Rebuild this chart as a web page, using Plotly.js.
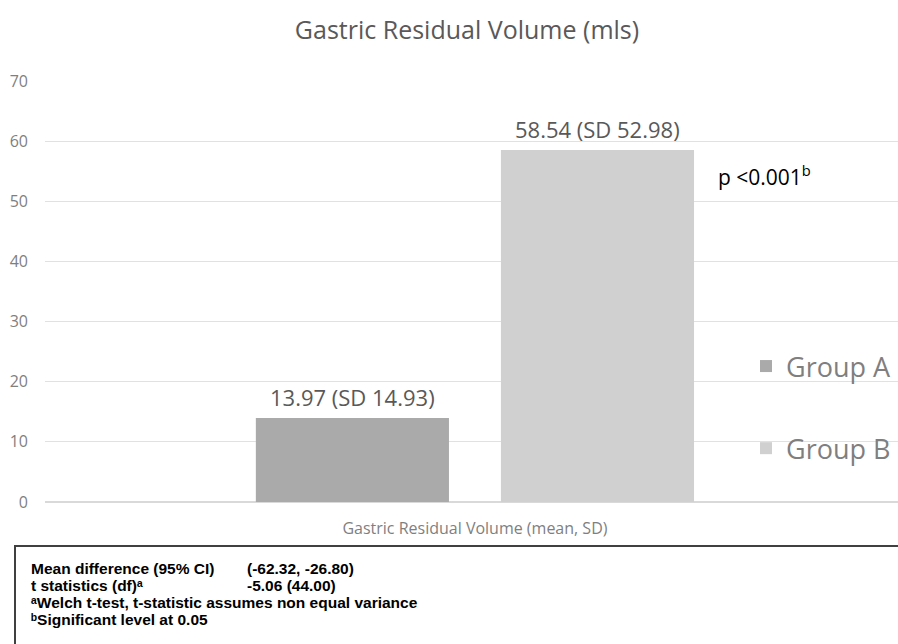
<!DOCTYPE html>
<html><head><meta charset="utf-8">
<script src="https://cdn.plot.ly/plotly-3.0.1.min.js"></script>
<style>html,body{margin:0;padding:0;background:#fff}#chart{width:898px;height:644px}</style>
</head><body><div id="chart"></div>
<script>
const categories = ["Gastric Residual Volume (mean, SD)"];
const groupNames = ["Group A", "Group B"];
const meansA = [13.97];
const meansB = [58.54];
const sdA = [14.93];
const sdB = [52.98];
const yTicks = [0, 10, 20, 30, 40, 50, 60, 70];
const statsLeft = ["Mean difference (95% CI)", "t statistics (df)\u1d43", "\u1d43Welch t-test, t-statistic assumes non equal variance", "\u1d47Significant level at 0.05"];
const statsRight = ["(-62.32, -26.80)", "-5.06 (44.00)", "", ""];
const pText = "p <0.001<sup>b</sup>";

const font = "'Open Sans', 'Noto Sans', sans-serif";
const mkTrace = (name, y, color, grp) => ({
  type: "bar", name: name, x: categories, y: y,
  marker: {color: color}, legendgroup: grp, hoverinfo: "skip"
});
const data = [
  mkTrace(groupNames[0], meansA, "#aaaaaa", "a"),
  mkTrace(groupNames[1], meansB, "#d0d0d0", "b")
];

const annotations = [];
const labelFont = {family: font, size: 22, color: "#595959"};
[[meansA, sdA, -122.5], [meansB, sdB, 122.5]].forEach(([m, s, dx]) => {
  m.forEach((v, i) => annotations.push({
    xref: "x", yref: "y", x: categories[i], y: v, xshift: dx, yshift: 21,
    xanchor: "center", yanchor: "middle", showarrow: false,
    text: v.toFixed(2) + " (SD " + s[i].toFixed(2) + ")", font: labelFont
  }));
});
annotations.push({
  xref: "paper", yref: "y", x: (716-45)/853, y: (502-175)/6.02, xanchor: "left", yanchor: "middle",
  text: pText, showarrow: false, font: {family: font, size: 21, color: "#000"}
});
const boxFont = {family: "'Liberation Sans', 'DejaVu Sans', Arial, sans-serif", size: 15.5, color: "#000", weight: "bold"};
const lineY = [568, 585, 602, 619];
statsLeft.forEach((t, i) => {
  annotations.push({xref: "paper", yref: "paper", x: (30-45)/853, y: (502-lineY[i])/421,
    xanchor: "left", yanchor: "middle", text: "<b>" + t + "</b>", showarrow: false, font: boxFont, borderpad: 0});
  if (statsRight[i]) annotations.push({xref: "paper", yref: "paper", x: (246-45)/853, y: (502-lineY[i])/421,
    xanchor: "left", yanchor: "middle", text: "<b>" + statsRight[i] + "</b>", showarrow: false, font: boxFont, borderpad: 0});
});

const layout = {
  width: 898, height: 644,
  margin: {l: 45, r: 0, t: 81, b: 142},
  paper_bgcolor: "#fff", plot_bgcolor: "#fff",
  title: {text: "Gastric Residual Volume (mls)", x: 467/898, xanchor: "center",
    y: 1 - 30/644, yanchor: "middle", font: {family: font, size: 25, color: "#595959"}},
  barmode: "group", bargap: 0.430, bargroupgap: 0.212,
  xaxis: {type: "category", range: [-0.5, 0.492], showgrid: false, zeroline: false, showline: false,
    ticks: "", tickfont: {family: font, size: 16, color: "#7f7f7f"}, ticklabelstandoff: 15},
  yaxis: {range: [0, 70], tickvals: yTicks, ticktext: yTicks.map(String), showgrid: true, gridcolor: "#e1e1e1",
    gridwidth: 1, zeroline: true, zerolinecolor: "#d9d9d9", zerolinewidth: 1.5, showline: false, ticks: "",
    tickfont: {family: font, size: 16, color: "#7f7f7f"}, ticklabelstandoff: 16, fixedrange: true},
  showlegend: true,
  legend: {x: (746-45)/853, xanchor: "left", y: (502-342)/421, yanchor: "top", traceorder: "grouped",
    tracegroupgap: 44, font: {family: font, size: 27, color: "#7f7f7f"}, bgcolor: "rgba(0,0,0,0)", itemwidth: 30},
  shapes: [{type: "rect", xref: "paper", yref: "paper", x0: (15-45)/853, x1: 1.01, y0: (502-650)/421, y1: (502-546)/421,
    line: {color: "#404040", width: 2}, fillcolor: "rgba(0,0,0,0)"}],
  annotations: annotations
};
Plotly.newPlot("chart", data, layout, {staticPlot: true});
</script></body></html>
